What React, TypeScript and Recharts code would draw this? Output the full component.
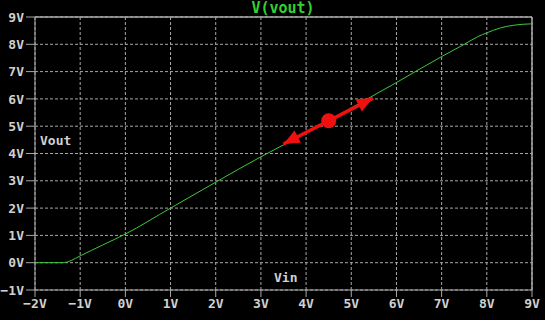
import {
  CartesianGrid,
  Line,
  LineChart,
  ReferenceDot,
  ReferenceLine,
  XAxis,
  YAxis,
} from "recharts";

const vin = [-2, -1.38, -1.3, -1.2, -1, -0.5, 0, 1, 2, 3, 4, 5, 6, 7, 7.5, 7.8, 8, 8.3, 8.6, 9];
const vout = [0, 0, 0.02, 0.08, 0.25, 0.65, 1.05, 2.0, 2.95, 3.88, 4.75, 5.67, 6.6, 7.55, 8.0, 8.28, 8.42, 8.6, 8.7, 8.75];

const xTicks = [-2, -1, 0, 1, 2, 3, 4, 5, 6, 7, 8, 9];
const yTicks = [-1, 0, 1, 2, 3, 4, 5, 6, 7, 8, 9];

// operating point marker and its arrow ends
const opPoint = { x: 4.5, y: 5.2 };
const arrowEnds = [
  { x: 3.5, y: 4.35 },
  { x: 5.48, y: 6.03 },
];

const data = vin.map((v, i) => ({ x: v, y: vout[i] }));

const FONT = "'DejaVu Sans Mono', monospace";
const GRID = "#a8a8a8";
const RED = "#f01010";

const fmt = (v: number) => (v < 0 ? `\u2212${Math.abs(v)}V` : `${v}V`);

const ArrowShape = (props: any) => {
  const { x1, y1, x2, y2 } = props;
  const ang = Math.atan2(y2 - y1, x2 - x1);
  const len = 16;
  const half = 7;
  const head = (tx: number, ty: number, a: number) => {
    const bx = tx - len * Math.cos(a);
    const by = ty - len * Math.sin(a);
    const px = -Math.sin(a) * half;
    const py = Math.cos(a) * half;
    return `${tx},${ty} ${bx + px},${by + py} ${bx - px},${by - py}`;
  };
  return (
    <g>
      <line x1={x1} y1={y1} x2={x2} y2={y2} stroke={RED} strokeWidth={3.5} />
      <polygon points={head(x2, y2, ang)} fill={RED} />
      <polygon points={head(x1, y1, ang + Math.PI)} fill={RED} />
    </g>
  );
};

const labelStyle: any = {
  position: "absolute",
  fontFamily: FONT,
  fontWeight: "bold",
  fontSize: 13,
  color: "#d0d0d0",
  lineHeight: "16px",
};

export default function App() {
  return (
    <div style={{ position: "relative", width: 545, height: 320, background: "#000" }}>
      <style>{`body{margin:0;background:#000}`}</style>
      <LineChart
        width={545}
        height={320}
        data={data}
        margin={{ top: 17, right: 13, bottom: 0, left: 0 }}
      >
        <CartesianGrid stroke={GRID} strokeDasharray="3 2" />
        <XAxis
          type="number"
          dataKey="x"
          domain={[-2, 9]}
          ticks={xTicks}
          tickFormatter={fmt}
          height={30}
          stroke={GRID}
          tickSize={7}
          interval={0}
          tick={{ fill: "#d0d0d0", fontFamily: FONT, fontWeight: "bold", fontSize: 13 }}
        />
        <YAxis
          type="number"
          domain={[-1, 9]}
          ticks={yTicks}
          tickFormatter={fmt}
          width={35}
          stroke={GRID}
          tickSize={9}
          interval={0}
          tick={{ fill: "#d0d0d0", fontFamily: FONT, fontWeight: "bold", fontSize: 13 }}
        />
        <ReferenceLine y={9} stroke={GRID} strokeWidth={1.5} />
        <ReferenceLine x={9} stroke={GRID} strokeWidth={1.5} />
        <Line
          type="monotone"
          dataKey="y"
          stroke="#3cc83c"
          strokeWidth={1}
          dot={false}
          isAnimationActive={false}
        />
        <ReferenceLine
          segment={[arrowEnds[0], arrowEnds[1]]}
          shape={ArrowShape}
          ifOverflow="visible"
        />
        <ReferenceDot x={opPoint.x} y={opPoint.y} r={7.5} fill={RED} stroke="none" />
      </LineChart>
      <div
        style={{
          ...labelStyle,
          left: 0,
          width: 566,
          top: -1,
          textAlign: "center",
          color: "#33d033",
          fontSize: 15,
          lineHeight: "18px",
        }}
      >
        V(vout)
      </div>
      <div style={{ ...labelStyle, left: 40, top: 133 }}>Vout</div>
      <div style={{ ...labelStyle, left: 274, top: 270 }}>Vin</div>
    </div>
  );
}
